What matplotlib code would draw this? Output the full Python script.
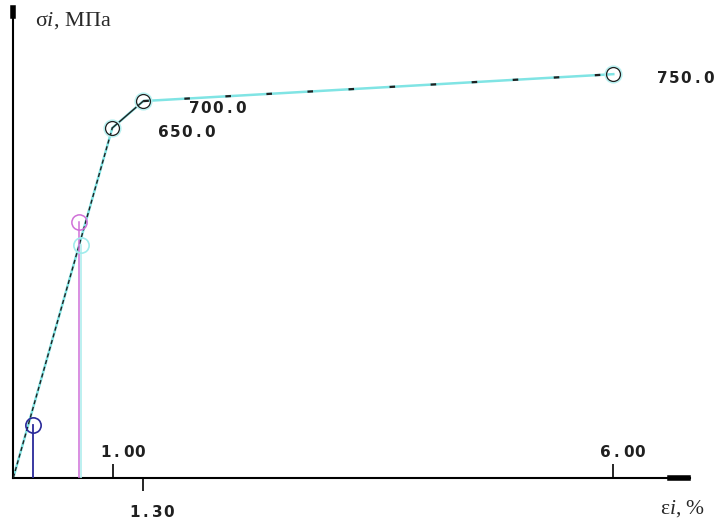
import matplotlib
matplotlib.use("Agg")
import matplotlib.pyplot as plt

# curve points (strain %, stress MPa)
eps_curve = [0.0, 0.99, 1.30, 6.00]
sig_curve = [0.0, 650.0, 700.0, 750.0]
point_labels = ["650.0", "700.0", "750.0"]

# extra points
eps_blue, sig_blue = 0.20, 98.0
eps_mag, sig_mag = 0.66, 476.0
eps_cyan, sig_cyan = 0.68, 432.0

tick_vals = [1.00, 6.00]
tick_low = 1.30

plt.rcParams["mathtext.fontset"] = "custom"
plt.rcParams["mathtext.rm"] = "Liberation Serif"
plt.rcParams["mathtext.it"] = "Liberation Serif:italic"

fig = plt.figure(figsize=(7.16, 5.22), dpi=100)
ax = fig.add_axes([0.01858, 0.0849, 0.9451, 0.8998])
ax.set_xlim(0, 6.767)
ax.set_ylim(0, 873)
for s in ["top", "right"]:
    ax.spines[s].set_visible(False)
ax.spines["left"].set_linewidth(1.5)
ax.spines["bottom"].set_linewidth(1.5)
ax.set_yticks([])

# ticks: 1.00 and 6.00 up, 1.30 down
ax.set_xticks(tick_vals)
ax.set_xticklabels([])
ax.tick_params(axis="x", which="major", direction="in", length=10, width=1.2)
ax.set_xticks([tick_low], minor=True)
ax.set_xticklabels([], minor=True)
ax.tick_params(axis="x", which="minor", direction="out", length=9.5, width=1.2)

# arrow-ish thick ends
ax.plot([0, 0], [0.983, 1.0], color="black", lw=4, transform=ax.transAxes, clip_on=False)
ax.plot([0.97, 0.997], [0, 0], color="black", lw=4, transform=ax.transAxes, clip_on=False)

# cyan model curve
cyan = "#80e4e4"
ax.plot(eps_curve, sig_curve, color=cyan, lw=1.8, zorder=2)

# black curve: dashed, solid, sparse dashes
ax.plot(eps_curve[:2], sig_curve[:2], color="#202020", lw=1.0, dashes=(3, 2), zorder=3)
ax.plot(eps_curve[1:3], sig_curve[1:3], color="#202020", lw=1.0, zorder=3)
ax.plot(eps_curve[2:], sig_curve[2:], color="#202020", lw=1.6, dashes=(2.5, 16), zorder=3)

# circles on the curve
ax.plot(eps_curve[1:], sig_curve[1:], "o", ms=11.5, mfc="none", mec="#b8f0f0", mew=1.6, zorder=3)
ax.plot(eps_curve[1:], sig_curve[1:], "o", ms=10, mfc="none", mec="#202020", mew=0.9,
        ls="none", zorder=4)

# blue point with vertical line
blue = "#2a2a9a"
ax.plot([eps_blue, eps_blue], [0, sig_blue], color=blue, lw=1.3, zorder=3)
ax.plot(eps_blue, sig_blue, "o", ms=11, mfc="none", mec=blue, mew=1.2, zorder=4)

# cyan and magenta points
mag = "#d070d8"
ax.plot([eps_cyan, eps_cyan], [0, sig_cyan], color="#b0eeee", lw=1.2, zorder=3)
ax.plot(eps_cyan, sig_cyan, "o", ms=11, mfc="none", mec="#a0ecec", mew=1.2, zorder=4)
ax.plot([eps_mag, eps_mag], [0, sig_mag], color=mag, lw=1.1, zorder=3)
ax.plot(eps_mag, sig_mag, "o", ms=11, mfc="none", mec=mag, mew=1.1, zorder=4)


def spaced_text(x, y, s, dx=0, dy=0, pitch=11.6):
    # draw each character in its own cell, like the wide console font
    for i, ch in enumerate(s):
        ax.annotate(ch, (x, y), xytext=(dx + i * pitch + pitch / 2, dy),
                    textcoords="offset pixels", ha="center", va="center",
                    family="DejaVu Sans", fontweight="bold", fontsize=11,
                    color="#202020", annotation_clip=False)


# value labels (left edge, centre y)
label_pos = [(1.44, 641), (1.75, 687), (6.43, 742)]
for (x, y), t in zip(label_pos, point_labels):
    spaced_text(x, y, t)

for v in tick_vals:
    spaced_text(v, 0, f"{v:.2f}", dx=-14, dy=25)
spaced_text(tick_low, 0, f"{tick_low:.2f}", dx=-15, dy=-35)

# axis titles
ax.text(0.22, 850, r"$\mathrm{σ}\mathit{i}$" + ", МПа", ha="left", va="center", fontsize=16,
        family="Liberation Serif", color="#282828", clip_on=False)
ax.text(6.47, -58, r"$\mathrm{ε}\mathit{i}$" + ", %", ha="left", va="center", fontsize=15.5,
        family="Liberation Serif", color="#282828", clip_on=False)

fig.savefig("out.png", dpi=100)
